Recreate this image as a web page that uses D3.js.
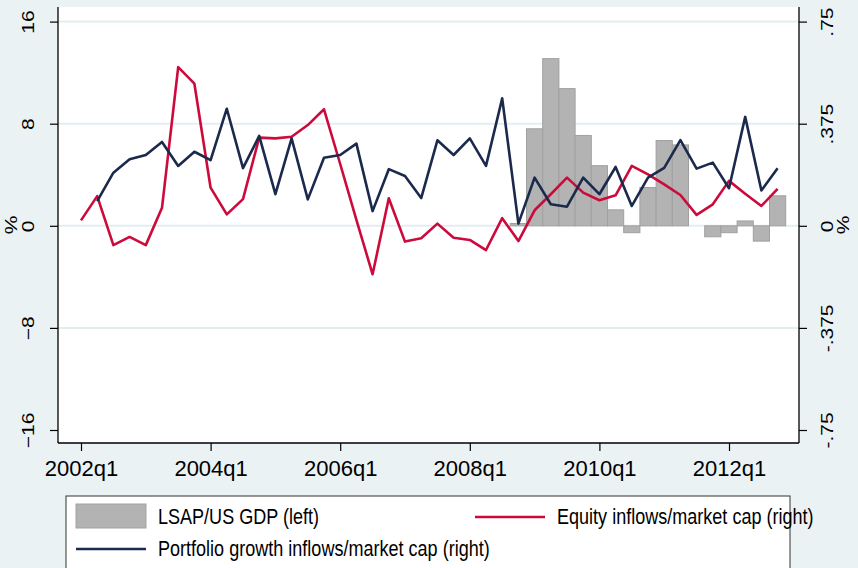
<!DOCTYPE html>
<html><head><meta charset="utf-8">
<script src="https://cdn.jsdelivr.net/npm/d3@7"></script>
<style>html,body{margin:0;padding:0;background:#eaf2f3;}svg{display:block;}</style>
</head><body>
<svg id="c" width="858" height="568"></svg>
<script>
// ---- data ----
const quarters = ["2002q1","2002q2","2002q3","2002q4","2003q1","2003q2","2003q3","2003q4",
"2004q1","2004q2","2004q3","2004q4","2005q1","2005q2","2005q3","2005q4",
"2006q1","2006q2","2006q3","2006q4","2007q1","2007q2","2007q3","2007q4",
"2008q1","2008q2","2008q3","2008q4","2009q1","2009q2","2009q3","2009q4",
"2010q1","2010q2","2010q3","2010q4","2011q1","2011q2","2011q3","2011q4",
"2012q1","2012q2","2012q3","2012q4"];
// LSAP / US GDP (left axis, %)
const lsap = [null,null,null,null,null,null,null,null,null,null,null,null,null,null,null,null,
null,null,null,null,null,null,null,null,null,null,null,
0.18,7.6,13.1,10.75,7.08,4.71,1.25,-0.54,3.0,6.68,6.34,0,-0.86,-0.54,0.38,-1.2,2.35];
// Equity inflows / market cap (right axis, %)
const equity = [0.020,0.109,-0.071,-0.041,-0.071,0.066,0.583,0.522,0.140,0.042,0.098,0.324,
0.321,0.327,0.370,0.428,0.227,0.022,-0.178,0.101,-0.058,-0.046,0.008,-0.044,
-0.052,-0.089,0.028,-0.056,0.057,0.116,0.177,0.122,0.094,0.112,0.220,0.189,
0.152,0.113,0.040,0.079,0.165,0.118,0.073,0.136];
// Portfolio growth inflows / market cap (right axis, %)
const growth = [null,0.091,0.195,0.244,0.260,0.308,0.220,0.272,0.241,0.430,0.212,0.330,
0.116,0.321,0.097,0.250,0.260,0.302,0.054,0.208,0.183,0.102,0.314,0.260,
0.321,0.220,0.468,0.008,0.177,0.079,0.070,0.177,0.116,0.216,0.073,0.177,
0.213,0.315,0.210,0.232,0.138,0.400,0.130,0.211];
const leftTicks = [-16,-8,0,8,16];
const rightTicks = [-0.75,-0.375,0,0.375,0.75];
const rightTickLabels = ["-.75","-.375","0",".375",".75"];
const xTickLabels = ["2002q1","2004q1","2006q1","2008q1","2010q1","2012q1"];
const legendLabels = ["LSAP/US GDP (left)","Equity inflows/market cap (right)","Portfolio growth inflows/market cap (right)"];

// ---- layout ----
const svg = d3.select("#c");
const F = "'Liberation Sans', Arial, sans-serif";
const plot = {l:58, r:799, t:7, b:443};
const x = d3.scaleLinear().domain([0, quarters.length-1]).range([81, 777.6]);
const yL = d3.scaleLinear().domain([-16,16]).range([430,21.6]);
const yR = d3.scaleLinear().domain([-0.75,0.75]).range([430,21.6]);
const bw = x(1)-x(0);
const RED = "#cc0a3c", NAVY = "#1b2a4c";

svg.append("rect").attr("width",858).attr("height",568).attr("fill","#eaf2f3");
svg.append("rect").attr("x",plot.l).attr("y",plot.t).attr("width",plot.r-plot.l).attr("height",plot.b-plot.t).attr("fill","#fff");

// gridlines
svg.append("g").selectAll("line").data(leftTicks.filter(d=>d>-16)).join("line")
  .attr("x1",plot.l).attr("x2",plot.r).attr("y1",d=>yL(d)).attr("y2",d=>yL(d))
  .attr("stroke","#e4edf0").attr("stroke-width",2);

// bars
svg.append("g").selectAll("rect").data(lsap.map((v,i)=>({v,i})).filter(d=>d.v!==null && d.v!==0)).join("rect")
  .attr("x",d=>x(d.i)-bw/2).attr("width",bw)
  .attr("y",d=>Math.min(yL(d.v),yL(0))).attr("height",d=>Math.abs(yL(d.v)-yL(0)))
  .attr("fill","#b3b3b3").attr("stroke","#a0a0a0").attr("stroke-width",1);

// lines
const line = d3.line().defined(d=>d.v!==null).x(d=>x(d.i)).y(d=>yR(d.v));
svg.append("path").datum(equity.map((v,i)=>({v,i}))).attr("d",line)
  .attr("fill","none").attr("stroke",RED).attr("stroke-width",2.6).attr("stroke-linejoin","round");
svg.append("path").datum(growth.map((v,i)=>({v,i}))).attr("d",line)
  .attr("fill","none").attr("stroke",NAVY).attr("stroke-width",2.6).attr("stroke-linejoin","round");

// axes
const ax = svg.append("g").attr("stroke","#000").attr("stroke-width",1.3);
ax.append("line").attr("x1",plot.l).attr("x2",plot.l).attr("y1",plot.t).attr("y2",plot.b);
ax.append("line").attr("x1",plot.r).attr("x2",plot.r).attr("y1",plot.t).attr("y2",plot.b);
ax.append("line").attr("x1",plot.l).attr("x2",plot.r).attr("y1",plot.b).attr("y2",plot.b);

const yAxisL = d3.axisLeft(yL).tickValues(leftTicks).tickSize(8).tickFormat(d3.format("d"));
const gl = svg.append("g").attr("transform",`translate(${plot.l},0)`).call(yAxisL);
gl.select(".domain").remove();
gl.selectAll("line").attr("stroke","#000").attr("stroke-width",1.2);
gl.selectAll("text").attr("font-family",F).attr("font-size",21).attr("fill","#000")
  .attr("x",null).attr("dy",null).attr("text-anchor","middle")
  .attr("transform","translate(-24,0) rotate(-90) scale(1,0.8)");

const yAxisR = d3.axisRight(yR).tickValues(rightTicks).tickSize(8).tickFormat((d,i)=>rightTickLabels[i]);
const gr = svg.append("g").attr("transform",`translate(${plot.r},0)`).call(yAxisR);
gr.select(".domain").remove();
gr.selectAll("line").attr("stroke","#000").attr("stroke-width",1.2);
gr.selectAll("text").attr("font-family",F).attr("font-size",21).attr("fill","#000")
  .attr("x",null).attr("dy",null).attr("text-anchor","middle")
  .attr("transform","translate(34,0) rotate(-90) scale(1,0.8)");

const xTickIdx = xTickLabels.map(l=>quarters.indexOf(l));
const xAxis = d3.axisBottom(x).tickValues(xTickIdx).tickSize(8).tickFormat(d=>quarters[d]);
const gx = svg.append("g").attr("transform",`translate(0,${plot.b})`).call(xAxis);
gx.select(".domain").remove();
gx.selectAll("line").attr("stroke","#000").attr("stroke-width",1.2);
gx.selectAll("text").attr("font-family",F).attr("font-size",22).attr("fill","#000")
  .attr("y",33).attr("dy",null);

// axis titles
svg.append("text").attr("transform","translate(17,225) rotate(-90) scale(1,0.8)")
  .attr("text-anchor","middle").attr("font-family",F).attr("font-size",21).text("%");
svg.append("text").attr("transform","translate(849,225) rotate(-90) scale(1,0.8)")
  .attr("text-anchor","middle").attr("font-family",F).attr("font-size",21).text("%");

// legend
const lg = svg.append("g");
lg.append("rect").attr("x",66).attr("y",496).attr("width",724).attr("height",100)
  .attr("fill","#fff").attr("stroke","#333").attr("stroke-width",1);
lg.append("rect").attr("x",76).attr("y",504).attr("width",70).attr("height",24)
  .attr("fill","#b3b3b3").attr("stroke","#a3a3a3");
lg.append("line").attr("x1",475).attr("x2",545).attr("y1",517).attr("y2",517).attr("stroke",RED).attr("stroke-width",2.6);
lg.append("line").attr("x1",76).attr("x2",146).attr("y1",549).attr("y2",549).attr("stroke",NAVY).attr("stroke-width",2.6);
const lt = [[158,524,legendLabels[0]],[557,524,legendLabels[1]],[158,556,legendLabels[2]]];
lt.forEach(([tx,ty,s])=>{
  lg.append("text").attr("transform",`translate(${tx},${ty}) scale(0.82,1)`)
    .attr("font-family",F).attr("font-size",22).attr("fill","#000").text(s);
});
</script>
</body></html>
